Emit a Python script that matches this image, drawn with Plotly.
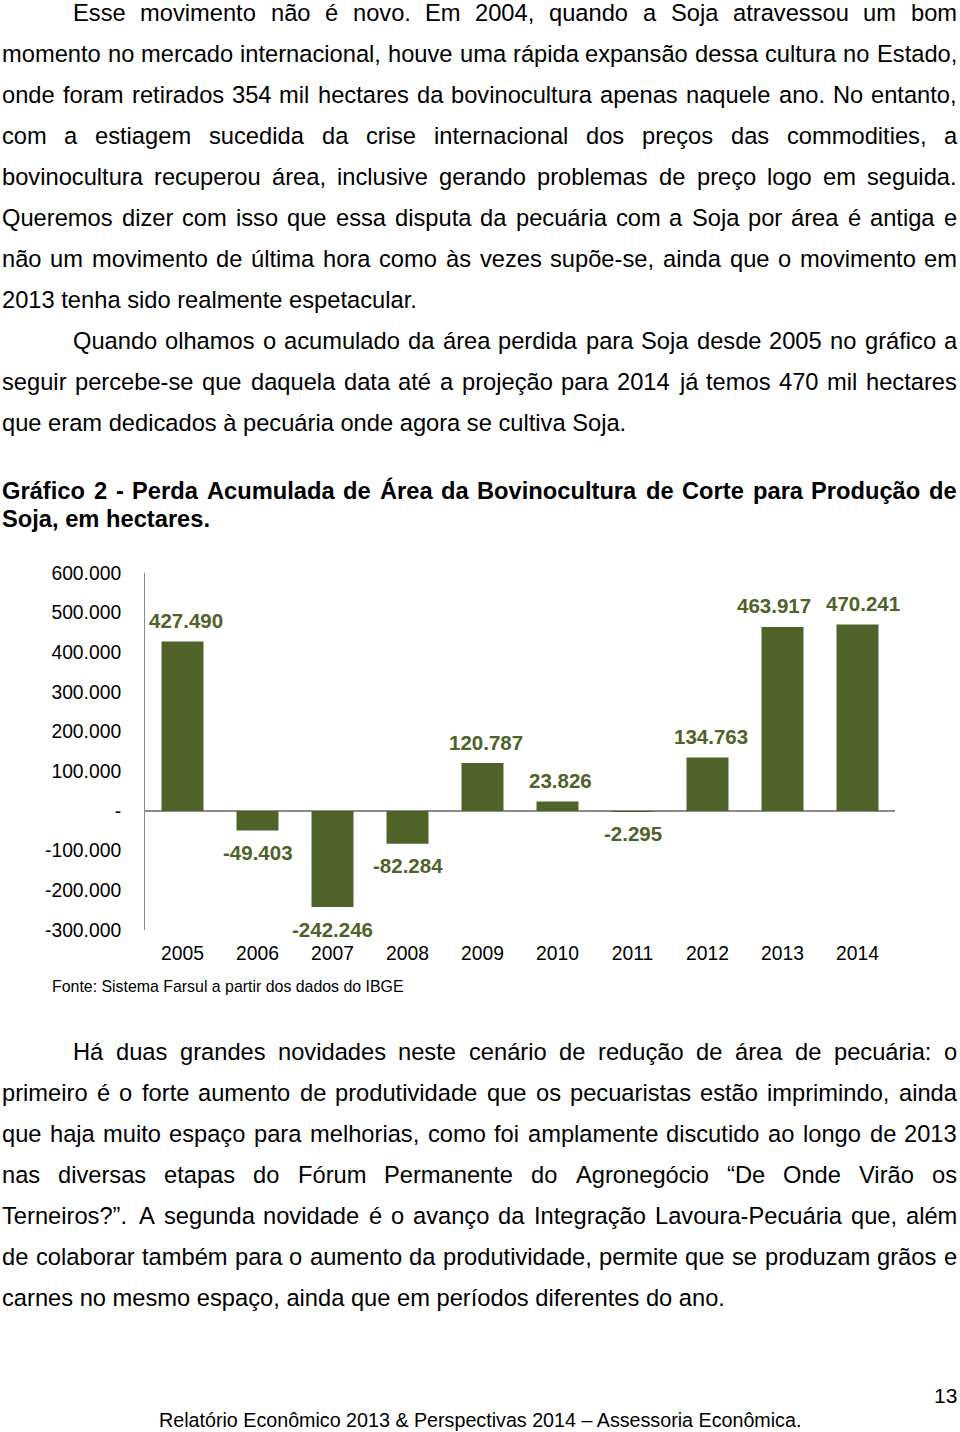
import plotly.graph_objects as go

W, H = 960, 1432

# ---------------- chart data ----------------
years = ["2005", "2006", "2007", "2008", "2009", "2010", "2011", "2012", "2013", "2014"]
area_loss = [427490, -49403, -242246, -82284, 120787, 23826, -2295, 134763, 463917, 470241]
y_tick_values = [600000, 500000, 400000, 300000, 200000, 100000, 0, -100000, -200000, -300000]
y_tick_labels = ["600.000", "500.000", "400.000", "300.000", "200.000", "100.000", "-",
                 "-100.000", "-200.000", "-300.000"]

# ---------------- page text ----------------
para_top = [
    ("Esse movimento não é novo. Em 2004, quando a Soja atravessou um bom", True, True),
    ("momento no mercado internacional, houve uma rápida expansão dessa cultura no Estado,", False, True),
    ("onde foram retirados 354 mil hectares da bovinocultura apenas naquele ano. No entanto,", False, True),
    ("com a estiagem sucedida da crise internacional dos preços das commodities, a", False, True),
    ("bovinocultura recuperou área, inclusive gerando problemas de preço logo em seguida.", False, True),
    ("Queremos dizer com isso que essa disputa da pecuária com a Soja por área é antiga e", False, True),
    ("não um movimento de última hora como às vezes supõe-se, ainda que o movimento em", False, True),
    ("2013 tenha sido realmente espetacular.", False, False),
    ("Quando olhamos o acumulado da área perdida para Soja desde 2005 no gráfico a", True, True),
    ("seguir percebe-se que daquela data até a projeção para 2014 já temos 470 mil hectares", False, True),
    ("que eram dedicados à pecuária onde agora se cultiva Soja.", False, False),
]
title_lines = [
    ("Gráfico 2 - Perda Acumulada de Área da Bovinocultura de Corte para Produção de", False, True),
    ("Soja, em hectares.", False, False),
]
para_bottom = [
    ("Há duas grandes novidades neste cenário de redução de área de pecuária: o", True, True),
    ("primeiro é o forte aumento de produtividade que os pecuaristas estão imprimindo, ainda", False, True),
    ("que haja muito espaço para melhorias, como foi amplamente discutido ao longo de 2013", False, True),
    ("nas diversas etapas do Fórum Permanente do Agronegócio “De Onde Virão os", False, True),
    ("Terneiros?”. A segunda novidade é o avanço da Integração Lavoura-Pecuária que, além", False, True),
    ("de colaborar também para o aumento da produtividade, permite que se produzam grãos e", False, True),
    ("carnes no mesmo espaço, ainda que em períodos diferentes do ano.", False, False),
]
source_text = "Fonte: Sistema Farsul a partir dos dados do IBGE"
footer_text = "Relatório Econômico 2013 & Perspectivas 2014 – Assessoria Econômica."
page_number = "13"

# ---------------- styling ----------------
FONT = "Liberation Sans, Arial, Helvetica, sans-serif"
BAR_COLOR = "#4F6228"
AXIS_COLOR = "#8C8C8C"
BODY_SIZE = 23.7
label_nudge_px = [3, 0, 0, 0, 3, 3, 0, 3, -9, 5]

# Arial / Liberation Sans advance widths (1/1000 em)
REG = {}
for chars, w in [("ijl", 222), (" ,./:;If!tí", 278), ("-r()“”", 333), ("cksvxyzJç", 500),
                 ("0123456789abdeghnopquL?áàâãéêóôõú–", 556), ("+=<>", 584), ("FTZ", 611),
                 ("ABEKPSVXY&ÁÉ", 667), ("CDHNRUwÚ", 722), ("GOQÓ", 778), ("Mm", 833),
                 ("%", 889), ("W", 944)]:
    for c in chars:
        REG[c] = w
BOLD = {}
for chars, w in [("ijl ,.Ií/", 278), ("-ft:;()!", 333), ("r", 389), ("z“”", 500),
                 ("0123456789aceksvxyJçáàãâéê–", 556), ("bdghnopquFLTZ?óôõú", 611),
                 ("EPSVXY", 667), ("ABCDHKNRU&Á", 722), ("GOQw", 778), ("M", 833),
                 ("m", 889), ("W", 944)]:
    for c in chars:
        BOLD[c] = w


def text_w(s, size, bold):
    t = BOLD if bold else REG
    return sum(t.get(c, 556) for c in s) * size / 1000.0


annotations = []


def add_text(text, x_px, y_px, size, bold=False, anchor="left", color="#000000"):
    annotations.append(dict(
        text=f"<b>{text}</b>" if bold else text,
        x=x_px / W, y=1 - y_px / H, xref="paper", yref="paper",
        xanchor=anchor, yanchor="middle", showarrow=False,
        borderpad=0, borderwidth=0,
        font=dict(family=FONT, size=size, color=color),
    ))


def add_line(text, y_px, left, right, size, bold, justify):
    if not justify:
        add_text(text, left, y_px, size, bold)
        return
    words = text.split(" ")
    widths = [text_w(w, size, bold) for w in words]
    gap = (right - left - sum(widths)) / (len(words) - 1)
    x = left
    for w, wd in zip(words, widths):
        add_text(w, x, y_px, size, bold)
        x += wd + gap


LEFT, RIGHT, INDENT = 2, 957, 73

for i, (txt, ind, just) in enumerate(para_top):
    add_line(txt, 13 + 41 * i, INDENT if ind else LEFT, RIGHT, BODY_SIZE, False, just)
for i, (txt, ind, just) in enumerate(title_lines):
    add_line(txt, 491 + 28 * i, LEFT, RIGHT, BODY_SIZE, True, just)
for i, (txt, ind, just) in enumerate(para_bottom):
    add_line(txt, 1052 + 41 * i, INDENT if ind else LEFT, RIGHT, BODY_SIZE, False, just)

add_text(source_text, 52, 986, 15.9)
add_text(footer_text, 480, 1420, 19.7, anchor="center")
add_text(page_number, 957, 1395, 21, anchor="right")

# data labels (x given as category index)
for i, (v, dx) in enumerate(zip(area_loss, label_nudge_px)):
    annotations.append(dict(
        text="<b>" + f"{v:,}".replace(",", ".") + "</b>",
        x=i, y=v, xref="x", yref="y", showarrow=False,
        xanchor="center", yanchor="middle",
        xshift=dx, yshift=21 if v > 0 else -22,
        font=dict(family=FONT, size=20.5, color=BAR_COLOR),
    ))

# ---------------- figure ----------------
fig = go.Figure(go.Bar(
    x=years, y=area_loss, marker=dict(color=BAR_COLOR, line=dict(width=0)),
    hoverinfo="skip",
))

plot_left, plot_right, plot_top, plot_bottom = 145, 895, 573, 930

fig.update_layout(
    width=W, height=H, autosize=False,
    margin=dict(l=0, r=0, t=0, b=0, pad=0),
    paper_bgcolor="white", plot_bgcolor="white",
    showlegend=False, bargap=0.44,
    annotations=annotations,
    xaxis=dict(
        domain=[plot_left / W, plot_right / W], type="category",
        range=[-0.5, len(years) - 0.5], autorange=False, automargin=False,
        showgrid=False, zeroline=False, showline=False, ticks="",
        ticklabelstandoff=10,
        tickfont=dict(family=FONT, size=19.3, color="#000000"),
    ),
    yaxis=dict(
        domain=[1 - plot_bottom / H, 1 - plot_top / H],
        range=[-300000, 600000], autorange=False, automargin=False,
        tickvals=y_tick_values, ticktext=y_tick_labels,
        showgrid=False, ticks="",
        showline=True, linecolor=AXIS_COLOR, linewidth=1,
        zeroline=True, zerolinecolor=AXIS_COLOR, zerolinewidth=1.5,
        ticklabelstandoff=19,
        tickfont=dict(family=FONT, size=19.3, color="#000000"),
    ),
)

fig.write_html("out.html", config={"displayModeBar": False},
               post_script="document.body.style.margin='0';")
